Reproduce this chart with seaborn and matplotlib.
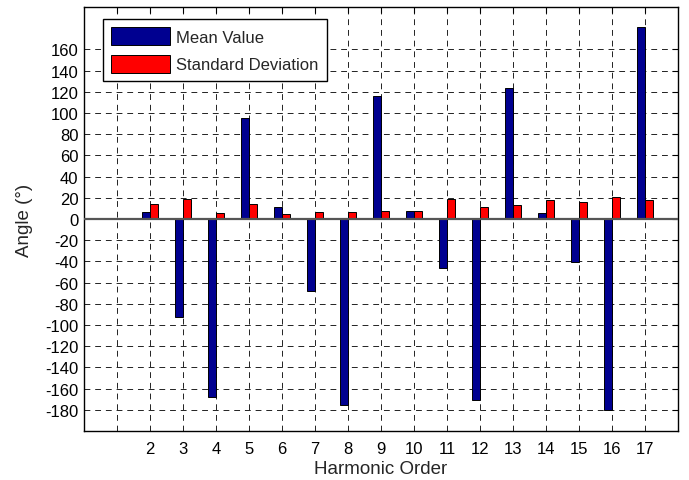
import matplotlib
matplotlib.use("Agg")
import matplotlib.pyplot as plt
import seaborn as sns
import pandas as pd

# Harmonic phase-angle statistics
harmonic_order = [2, 3, 4, 5, 6, 7, 8, 9, 10, 11, 12, 13, 14, 15, 16, 17]
mean_value = [7, -92, -168, 95, 11, -68, -175, 116, 8, -46, -171, 124, 6, -41, -180, 181]
std_deviation = [14, 19, 6, 14, 5, 7, 7, 8, 8, 19, 11, 13, 18, 16, 21, 18]
series_names = ["Mean Value", "Standard Deviation"]
y_ticks = list(range(-180, 161, 20))
x_ticks = list(range(1, 18))
x_tick_labels = [""] + [str(v) for v in harmonic_order]

df = pd.DataFrame({
    "order": harmonic_order * 2,
    "angle": mean_value + std_deviation,
    "series": [series_names[0]] * len(harmonic_order) + [series_names[1]] * len(harmonic_order),
})

sns.set_theme(style="white")
plt.rcParams["font.family"] = ["Liberation Sans", "DejaVu Sans"]

fig = plt.figure(figsize=(6.89, 4.81), dpi=100)
ax = fig.add_axes([84 / 689, 1 - 432 / 481, (678 - 84) / 689, (432 - 8) / 481])

sns.barplot(
    data=df, x="order", y="angle", hue="series", hue_order=series_names,
    native_scale=True, width=0.5, gap=0.08,
    palette=["#000090", "#ff0000"], edgecolor="black", linewidth=0.7,
    saturation=1, ax=ax, errorbar=None, zorder=3,
)

ax.set_xlim(0, 18)
ax.set_ylim(-200, 200)
ax.set_xticks(x_ticks)
ax.set_xticklabels(x_tick_labels)
ax.set_yticks(y_ticks)
ax.set_yticklabels([str(v) for v in y_ticks])

ax.grid(True, color="#222222", linestyle=(0, (6, 5)), linewidth=0.7, zorder=1)
ax.set_axisbelow(True)
ax.axhline(0, color="#555555", linewidth=1.6, zorder=4)

for side in ax.spines.values():
    side.set_visible(True)
    side.set_color("black")
    side.set_linewidth(1.0)

ax.tick_params(direction="in", length=4, width=0.8, top=True, right=True,
               labelsize=12, colors="black", pad=4)
ax.tick_params(axis="x", pad=7)

ax.set_xlabel("Harmonic Order", fontsize=13.5, labelpad=3)
ax.set_ylabel("Angle (°)", fontsize=13.5, labelpad=9)

handles, labels = ax.get_legend_handles_labels()
leg = ax.legend(
    handles, labels, loc="upper left", bbox_to_anchor=(0.032, 0.972),
    borderaxespad=0, fontsize=12, handlelength=3.5, handleheight=1.3,
    handletextpad=0.4, labelspacing=0.55, borderpad=0.5, fancybox=False,
    framealpha=1, edgecolor="black", title=None,
)
leg.get_frame().set_linewidth(1.0)
leg.set_zorder(5)

fig.savefig("out.png", dpi=100)
